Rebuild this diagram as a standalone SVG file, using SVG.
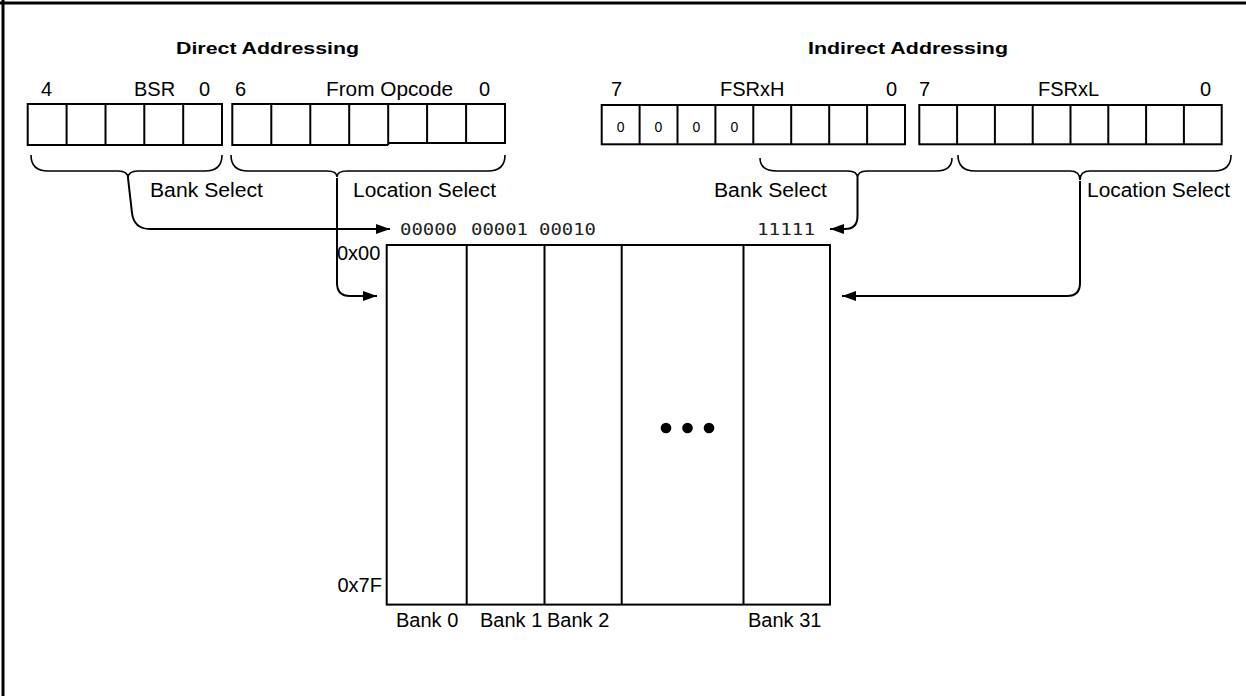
<svg xmlns="http://www.w3.org/2000/svg" width="1246" height="696" viewBox="0 0 1246 696">
<defs>
<marker id="ah" markerUnits="userSpaceOnUse" markerWidth="15" markerHeight="10" refX="14" refY="5" orient="auto">
<path d="M0,0 L14,5 L0,10 z" fill="#000"/>
</marker>
<style>
.t{font-family:"Liberation Sans",Arial,sans-serif;font-size:20px;fill:#000}
.h{font-family:"Liberation Sans",Arial,sans-serif;font-size:17px;font-weight:bold;fill:#000}
.m{font-family:"DejaVu Sans Mono",monospace;font-size:16px;fill:#222}
.z{font-family:"Liberation Sans",Arial,sans-serif;font-size:14px;fill:#000;text-anchor:middle}
.cell{fill:#fff;stroke:#000;stroke-width:2}
.div{stroke:#000;stroke-width:2;fill:none}
.brace{fill:none;stroke:#000;stroke-width:1.6}
.conn{fill:none;stroke:#000;stroke-width:2}
</style>
</defs>
<rect width="1246" height="696" fill="#fff"/>
<line x1="0" y1="3" x2="1246" y2="3" stroke="#000" stroke-width="3"/>
<line x1="3" y1="0" x2="3" y2="696" stroke="#000" stroke-width="3"/>

<text class="h" x="176" y="54" textLength="183" lengthAdjust="spacingAndGlyphs">Direct Addressing</text>
<text class="h" x="808" y="54" textLength="200" lengthAdjust="spacingAndGlyphs">Indirect Addressing</text>

<g id="bsr">
<text class="t" x="41" y="96">4</text>
<text class="t" x="134" y="96">BSR</text>
<text class="t" x="199" y="96">0</text>
<rect class="cell" x="27.7" y="104" width="194.3" height="41"/>
<path class="div" d="M66.6,104V145M105.5,104V145M144.3,104V145M183.2,104V145"/>
</g>

<g id="opcode">
<text class="t" x="235" y="96">6</text>
<text class="t" x="326" y="96" textLength="127" lengthAdjust="spacingAndGlyphs">From Opcode</text>
<text class="t" x="479" y="96">0</text>
<path class="div" d="M388.2,145H232.3V104H505V143H388.2"/>
<path class="div" d="M271.3,104V145M310.3,104V145M349.2,104V145M388.2,104V145M427.1,104V143M466.1,104V143"/>
</g>

<g id="fsrxh">
<text class="t" x="611" y="96">7</text>
<text class="t" x="720" y="96">FSRxH</text>
<text class="t" x="886" y="96">0</text>
<rect class="cell" x="601.7" y="105" width="303.3" height="39.3"/>
<path class="div" d="M639.6,105V144.3M677.5,105V144.3M715.4,105V144.3M753.3,105V144.3M791.2,105V144.3M829.2,105V144.3M867.1,105V144.3"/>
<text class="z" x="620.6" y="131.5">0</text>
<text class="z" x="658.5" y="131.5">0</text>
<text class="z" x="696.4" y="131.5">0</text>
<text class="z" x="734.3" y="131.5">0</text>
</g>

<g id="fsrxl">
<text class="t" x="919" y="96">7</text>
<text class="t" x="1038" y="96">FSRxL</text>
<text class="t" x="1200" y="96">0</text>
<rect class="cell" x="919.3" y="105" width="302.4" height="39.3"/>
<path class="div" d="M957.1,105V144.3M994.9,105V144.3M1032.7,105V144.3M1070.5,105V144.3M1108.3,105V144.3M1146.1,105V144.3M1183.9,105V144.3"/>
</g>

<g id="direct-bank-select">
<path class="brace" d="M31,155 Q31,171 48,171 H118 Q128,171 128,178 Q128,171 138,171 H205 Q222,171 222,155"/>
<text class="t" x="150" y="197" textLength="113" lengthAdjust="spacingAndGlyphs">Bank Select</text>
</g>

<g id="direct-location-select">
<path class="brace" d="M231,155 Q231,171 248,171 H327 Q337,171 337,177 Q337,171 347,171 H488 Q505,171 505,155"/>
<text class="t" x="353" y="197" textLength="143" lengthAdjust="spacingAndGlyphs">Location Select</text>
</g>

<g id="indirect-bank-select">
<path class="brace" d="M760,158 Q760,171 777,171 H848 Q857.5,171 857.5,178 Q857.5,171 867,171 H936 Q952,171 952,158"/>
<text class="t" x="714" y="197" textLength="113" lengthAdjust="spacingAndGlyphs">Bank Select</text>
</g>

<g id="indirect-location-select">
<path class="brace" d="M958,155 Q958,171 975,171 H1070 Q1080,171 1080,180 Q1080,171 1090,171 H1214 Q1231,171 1231,155"/>
<text class="t" x="1087" y="197" textLength="143" lengthAdjust="spacingAndGlyphs">Location Select</text>
</g>

<g id="memory">
<text class="m" x="400" y="235" textLength="57" lengthAdjust="spacingAndGlyphs">00000</text>
<text class="m" x="471" y="235" textLength="57" lengthAdjust="spacingAndGlyphs">00001</text>
<text class="m" x="539" y="235" textLength="57" lengthAdjust="spacingAndGlyphs">00010</text>
<text class="m" x="757" y="235" textLength="58" lengthAdjust="spacingAndGlyphs">11111</text>
<text class="t" x="337" y="260">0x00</text>
<text class="t" x="337.5" y="592">0x7F</text>
<rect x="386.7" y="245" width="443.3" height="359.6" fill="#fff" stroke="#000" stroke-width="2"/>
<path class="div" d="M466.7,245V604.6M544.5,245V604.6M621.7,245V604.6M743.5,245V604.6"/>
<circle cx="666" cy="428" r="5.3"/>
<circle cx="687.5" cy="428" r="5.3"/>
<circle cx="709" cy="428" r="5.3"/>
<text class="t" x="396" y="627">Bank 0</text>
<text class="t" x="480" y="627">Bank 1</text>
<text class="t" x="547" y="627">Bank 2</text>
<text class="t" x="748" y="627">Bank 31</text>
</g>

<g id="connectors">
<path class="conn" d="M128,178 L132,213 Q134,229 150,229 H390" marker-end="url(#ah)"/>
<path class="conn" d="M337,178 V283 Q337,296 350,296 H377" marker-end="url(#ah)"/>
<path class="conn" d="M857.5,178 V216 Q857.5,229 845,229 H830" marker-end="url(#ah)"/>
<path class="conn" d="M1080,181 V283 Q1080,296 1067,296 H842" marker-end="url(#ah)"/>
</g>
</svg>
